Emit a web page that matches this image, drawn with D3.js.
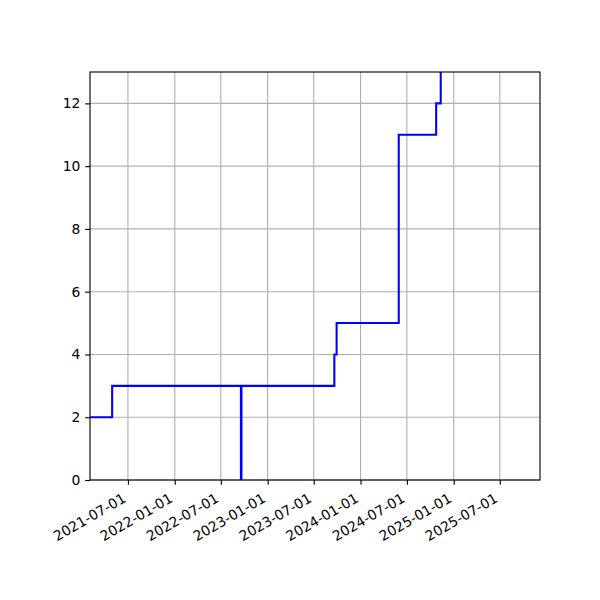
<!DOCTYPE html>
<html>
<head>
<meta charset="utf-8">
<script src="https://cdn.jsdelivr.net/npm/d3@7"></script>
<style>
  html, body { margin: 0; padding: 0; background: #fff; }
  svg { display: block; }
  text { font-family: "DejaVu Sans", sans-serif; }
</style>
</head>
<body>
<svg id="chart" width="600" height="600"></svg>
<script>
// Data: step changes (value holds until next date)
const dates = ["2021-02-02", "2021-04-30", "2022-09-18", "2022-09-20", "2023-09-20", "2023-09-29", "2024-05-30", "2024-10-24", "2024-11-11", "2025-01-01"];
const values = [2, 3, 0, 3, 4, 5, 11, 12, 14, 14];
const xTickLabels = ["2021-07-01", "2022-01-01", "2022-07-01", "2023-01-01", "2023-07-01", "2024-01-01", "2024-07-01", "2025-01-01", "2025-07-01"];
const yTicks = [0, 2, 4, 6, 8, 10, 12];
const xDomain = ["2021-02-02", "2025-12-06"];
const yDomain = [0, 13];

const parse = d3.utcParse("%Y-%m-%d");
const data = dates.map((d, i) => ({ date: parse(d), value: values[i] }));

const margin = { left: 90, right: 60, top: 72, bottom: 120 };
const W = 600, H = 600;
const iw = W - margin.left - margin.right;
const ih = H - margin.top - margin.bottom;

const svg = d3.select("#chart");
const g = svg.append("g").attr("transform", `translate(${margin.left},${margin.top})`);

const x = d3.scaleUtc().domain(xDomain.map(parse)).range([0, iw]);
const y = d3.scaleLinear().domain(yDomain).range([ih, 0]);

const xTicks = xTickLabels.map(parse);

// grid
g.append("g").selectAll("line").data(xTicks).join("line")
  .attr("x1", d => x(d)).attr("x2", d => x(d))
  .attr("y1", 0).attr("y2", ih)
  .attr("stroke", "#b0b0b0").attr("stroke-width", 1.11);
g.append("g").selectAll("line").data(yTicks).join("line")
  .attr("x1", 0).attr("x2", iw)
  .attr("y1", d => y(d)).attr("y2", d => y(d))
  .attr("stroke", "#b0b0b0").attr("stroke-width", 1.11);

// clip
svg.append("defs").append("clipPath").attr("id", "clip")
  .append("rect").attr("x", 0).attr("y", 0).attr("width", iw).attr("height", ih);

const line = d3.line()
  .x(d => x(d.date))
  .y(d => y(d.value))
  .curve(d3.curveStepAfter);

g.append("path")
  .datum(data)
  .attr("clip-path", "url(#clip)")
  .attr("fill", "none")
  .attr("stroke", "#0000ff")
  .attr("stroke-width", 2.08)
  .attr("stroke-linejoin", "miter")
  .attr("stroke-linecap", "square")
  .attr("d", line);

// axes
const fmt = d3.utcFormat("%Y-%m-%d");
const xAxis = g.append("g").attr("transform", `translate(0,${ih})`)
  .call(d3.axisBottom(x).tickValues(xTicks).tickFormat(fmt).tickSize(4.86).tickPadding(4.86));
xAxis.select(".domain").remove();
xAxis.selectAll("line").attr("stroke", "#000").attr("stroke-width", 1.11);
xAxis.selectAll("text")
  .attr("font-size", "13.89px")
  .attr("fill", "#000")
  .attr("text-anchor", "end")
  .attr("x", 0).attr("y", 0)
  .attr("dy", "0")
  .attr("transform", "translate(-1.6,21.2) rotate(-30)");

const yAxis = g.append("g")
  .call(d3.axisLeft(y).tickValues(yTicks).tickFormat(d3.format("d")).tickSize(4.86).tickPadding(4.86));
yAxis.select(".domain").remove();
yAxis.selectAll("line").attr("stroke", "#000").attr("stroke-width", 1.11);
yAxis.selectAll("text").attr("font-size", "13.89px").attr("fill", "#000");

// spines
g.append("rect").attr("x", 0).attr("y", 0).attr("width", iw).attr("height", ih)
  .attr("fill", "none").attr("stroke", "#000").attr("stroke-width", 1.11);
</script>
</body>
</html>
